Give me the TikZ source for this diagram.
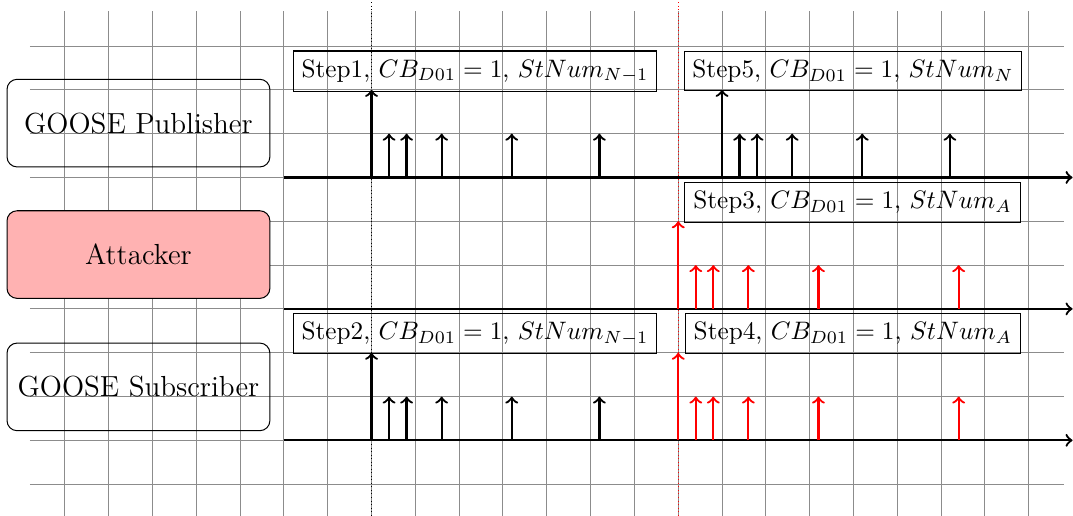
\documentclass[tikz,border=0pt]{standalone}

\tikzset{
  ied/.style = {draw, rounded corners, align=center,
    font=\fontsize{11.5}{14}\selectfont,
    minimum width=3.66cm, minimum height=1.22cm},% boite IED
  ied_a/.style = {ied, fill=red!30},% attaquant
  stepbox/.style = {draw, anchor=south west},% etiquette de trame
  taxis/.style = {->, line width=0.9pt},% axe des temps
  pkt/.style = {->, line width=0.9pt},% trame GOOSE
  pkt_a/.style = {pkt, red}% trame forgee
}

\begin{document}
\begin{tikzpicture}[scale=0.61]
  \useasboundingbox (-6.48,-1.71) rectangle (18.01,10.05);
  \draw[gray!90, thin] (-5.8,-1.8) grid (17.8,9.8);

  % marqueurs d'instants
  \draw[densely dotted] (2,10) -- (2,-1.8);
  \draw[densely dotted, red] (9,10) -- (9,-1.8);

  % les trois acteurs
  \node [ied] (pub) at (-3.32,7.24) {GOOSE Publisher};
  \node [ied_a] (att) at (-3.32,4.24) {Attacker};
  \node [ied] (sub) at (-3.32,1.22) {GOOSE Subscriber};

  % axes des temps
  \draw[taxis] (0,6) -- (18,6);
  \draw[taxis] (0,3) -- (18,3);
  \draw[taxis] (0,0) -- (18,0);

  % publisher : StNum N-1 puis StNum N
  \draw[pkt] (2,6) -- (2,8);
  \foreach \t in {2.4,2.8,3.6,5.2,7.2}
    \draw[pkt] (\t,6) -- (\t,7);
  \draw[pkt] (10,6) -- (10,8);
  \foreach \t in {10.4,10.8,11.6,13.2,15.2}
    \draw[pkt] (\t,6) -- (\t,7);

  % attaquant : StNum A
  \draw[pkt_a] (9,3) -- (9,5);
  \foreach \t in {9.4,9.8,10.6,12.2,15.4}
    \draw[pkt_a] (\t,3) -- (\t,4);

  % subscriber : recoit les deux
  \draw[pkt] (2,0) -- (2,2);
  \foreach \t in {2.4,2.8,3.6,5.2,7.2}
    \draw[pkt] (\t,0) -- (\t,1);
  \draw[pkt_a] (9,0) -- (9,2);
  \foreach \t in {9.4,9.8,10.6,12.2,15.4}
    \draw[pkt_a] (\t,0) -- (\t,1);

  % etapes
  \node [stepbox] (s1) at (0.2,7.95) {Step1, $CB_{D01}=1$, $StNum_{N-1}$};
  \node [stepbox] (s2) at (0.2,1.96) {Step2, $CB_{D01}=1$, $StNum_{N-1}$};
  \node [stepbox] (s3) at (9.14,4.97) {Step3, $CB_{D01}=1$, $StNum_{A}$};
  \node [stepbox] (s4) at (9.15,1.98) {Step4, $CB_{D01}=1$, $StNum_{A}$};
  \node [stepbox] (s5) at (9.12,7.97) {Step5, $CB_{D01}=1$, $StNum_{N}$};
\end{tikzpicture}
\end{document}
